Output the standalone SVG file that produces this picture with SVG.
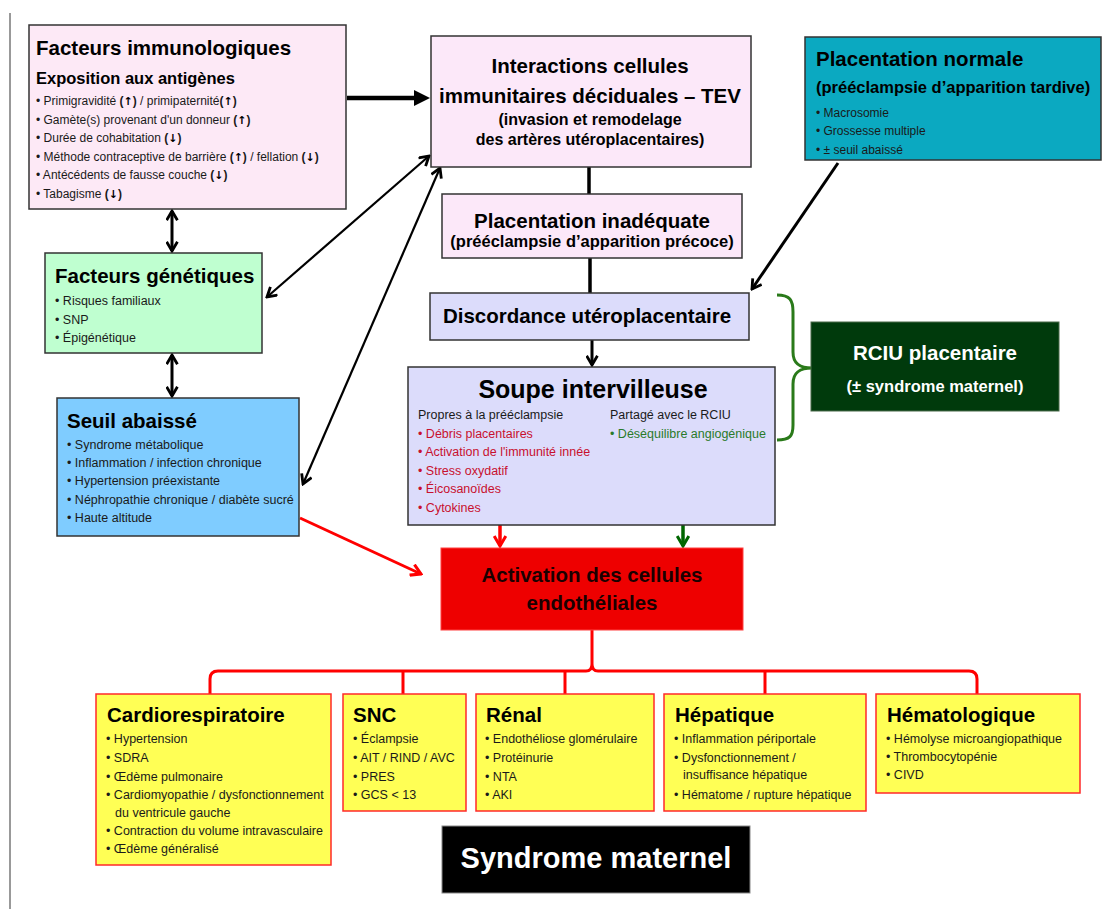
<svg xmlns="http://www.w3.org/2000/svg" width="1108" height="909" viewBox="0 0 1108 909">
<style>
text{font-family:"Liberation Sans",Arial,"DejaVu Sans",sans-serif}
.h{font-weight:bold;font-size:20.5px;fill:#000}
.hc{font-weight:bold;font-size:20.5px;fill:#000;text-anchor:middle}
.s{font-weight:bold;font-size:16.5px;fill:#000}
.sc{font-weight:bold;font-size:16px;fill:#000;text-anchor:middle}
.b{font-size:12.5px;fill:#1a1a1a}
.b1{font-size:12px;fill:#1a1a1a}
.ar{font-family:"DejaVu Sans",sans-serif;font-weight:bold;font-size:11px;fill:#000}
.r{font-size:12.5px;fill:#c8102e}
.g{font-size:12.5px;fill:#2a7a2a}
.bx{stroke:#333;stroke-width:1.5}
.yb{fill:#ffff55;stroke:#ff2a2a;stroke-width:1.5}
.k{stroke:#000;fill:none}
.rd{stroke:#ff0000;fill:none}
</style>
<defs>
<marker id="vK" viewBox="0 0 12 12" refX="10.5" refY="6" markerWidth="13" markerHeight="13" markerUnits="userSpaceOnUse" orient="auto-start-reverse"><path d="M2,1 L10.5,6 L2,11" fill="none" stroke="#000" stroke-width="2.6"/></marker>
<marker id="vR" viewBox="0 0 12 12" refX="10.5" refY="6" markerWidth="14" markerHeight="14" markerUnits="userSpaceOnUse" orient="auto"><path d="M2,1 L10.5,6 L2,11" fill="none" stroke="#ff0000" stroke-width="2.6"/></marker>
<marker id="vG" viewBox="0 0 12 12" refX="10.5" refY="6" markerWidth="14" markerHeight="14" markerUnits="userSpaceOnUse" orient="auto"><path d="M2,1 L10.5,6 L2,11" fill="none" stroke="#006600" stroke-width="2.6"/></marker>
<marker id="tK" viewBox="0 0 10 10" refX="0" refY="5" markerWidth="16" markerHeight="16" markerUnits="userSpaceOnUse" orient="auto"><path d="M0,0 L10,5 L0,10 z" fill="#000"/></marker>
</defs>
<rect width="1108" height="909" fill="#fff"/>
<line x1="10" y1="13" x2="10" y2="909" stroke="#777" stroke-width="1.5"/>

<g id="connectors">
<line class="k" x1="347" y1="98" x2="414" y2="98" stroke-width="4.5" marker-end="url(#tK)"/>
<line class="k" x1="172" y1="211" x2="172" y2="251" stroke-width="3" marker-start="url(#vK)" marker-end="url(#vK)"/>
<line class="k" x1="172" y1="355" x2="172" y2="396" stroke-width="3" marker-start="url(#vK)" marker-end="url(#vK)"/>
<line class="k" x1="429" y1="156" x2="267" y2="297" stroke-width="2.2" marker-start="url(#vK)" marker-end="url(#vK)"/>
<line class="k" x1="440" y1="168" x2="303" y2="484" stroke-width="2.2" marker-start="url(#vK)" marker-end="url(#vK)"/>
<line class="k" x1="589" y1="167" x2="589" y2="195" stroke-width="3.5"/>
<line class="k" x1="590" y1="258" x2="590" y2="293" stroke-width="3.5"/>
<line class="k" x1="838" y1="163" x2="752" y2="289" stroke-width="3" marker-end="url(#vK)"/>
<line class="k" x1="592" y1="340" x2="592" y2="365" stroke-width="3" marker-end="url(#vK)"/>
<line class="rd" x1="300" y1="518" x2="421" y2="574" stroke-width="3" marker-end="url(#vR)"/>
<line class="rd" x1="500" y1="525" x2="500" y2="546" stroke-width="3.5" marker-end="url(#vR)"/>
<line x1="683" y1="525" x2="683" y2="546" stroke="#006600" stroke-width="3.5" marker-end="url(#vG)"/>
<path d="M777,295 C790,295 793,300 793,312 L793,352 C793,364 800,368 812,368 C800,368 793,372 793,384 L793,425 C793,436 790,440 777,440" fill="none" stroke="#2a7a1a" stroke-width="3"/>
<path class="rd" stroke-width="3" d="M210,695 L210,679 Q210,671 218,671 L586,671 Q592,671 592,664 L592,630 M592,664 Q592,671 598,671 L969,671 Q977,671 977,679 L977,695 M403,671 L403,695 M565,671 L565,695 M765,671 L765,695"/>
</g>

<g id="facteurs-immunologiques">
<rect class="bx" x="29" y="25" width="317" height="184" fill="#fde9f6"/>
<text class="h" x="36" y="55">Facteurs immunologiques</text>
<text class="s" x="36" y="84">Exposition aux antigènes</text>
<text class="b1" x="36" y="105">• Primigravidité <tspan font-weight="bold">(</tspan><tspan class="ar">↑</tspan><tspan font-weight="bold">)</tspan> / primipaternité<tspan font-weight="bold">(</tspan><tspan class="ar">↑</tspan><tspan font-weight="bold">)</tspan></text>
<text class="b1" x="36" y="124">• Gamète(s) provenant d'un donneur <tspan font-weight="bold">(</tspan><tspan class="ar">↑</tspan><tspan font-weight="bold">)</tspan></text>
<text class="b1" x="36" y="142">• Durée de cohabitation <tspan font-weight="bold">(</tspan><tspan class="ar">↓</tspan><tspan font-weight="bold">)</tspan></text>
<text class="b1" x="36" y="161">• Méthode contraceptive de barrière <tspan font-weight="bold">(</tspan><tspan class="ar">↑</tspan><tspan font-weight="bold">)</tspan>  / fellation <tspan font-weight="bold">(</tspan><tspan class="ar">↓</tspan><tspan font-weight="bold">)</tspan></text>
<text class="b1" x="36" y="179">• Antécédents de fausse couche <tspan font-weight="bold">(</tspan><tspan class="ar">↓</tspan><tspan font-weight="bold">)</tspan></text>
<text class="b1" x="36" y="198">• Tabagisme <tspan font-weight="bold">(</tspan><tspan class="ar">↓</tspan><tspan font-weight="bold">)</tspan></text>
</g>

<g id="interactions">
<rect class="bx" x="431" y="36" width="320" height="131" fill="#fce8f9"/>
<text class="hc" x="590" y="73">Interactions cellules</text>
<text class="hc" x="590" y="103">immunitaires déciduales – TEV</text>
<text class="sc" x="590" y="125">(invasion et remodelage</text>
<text class="sc" x="590" y="145">des artères utéroplacentaires)</text>
</g>

<g id="placentation-inadequate">
<rect class="bx" x="442" y="194" width="300" height="64" fill="#fce8f9"/>
<text class="hc" x="592" y="228">Placentation inadéquate</text>
<text class="sc" x="592" y="247" style="font-size:16.5px">(prééclampsie d’apparition précoce)</text>
</g>

<g id="placentation-normale">
<rect class="bx" x="805" y="37" width="296" height="123" fill="#0ba9c1"/>
<text class="h" x="816" y="66">Placentation normale</text>
<text class="s" x="816" y="93">(prééclampsie d’apparition tardive)</text>
<text class="b1" x="816" y="117">• Macrosomie</text>
<text class="b1" x="816" y="135">• Grossesse multiple</text>
<text class="b1" x="816" y="154">• ± seuil abaissé</text>
</g>

<g id="facteurs-genetiques">
<rect class="bx" x="45" y="253" width="217" height="100" fill="#bfffd0"/>
<text class="h" x="55" y="283">Facteurs génétiques</text>
<text class="b" x="55" y="305">• Risques familiaux</text>
<text class="b" x="55" y="324">• SNP</text>
<text class="b" x="55" y="342">• Épigénétique</text>
</g>

<g id="seuil-abaisse">
<rect class="bx" x="57" y="398" width="242" height="138" fill="#7fccff"/>
<text class="h" x="67" y="428">Seuil abaissé</text>
<text class="b" x="67" y="449">• Syndrome métabolique</text>
<text class="b" x="67" y="467">• Inflammation / infection chronique</text>
<text class="b" x="67" y="485">• Hypertension préexistante</text>
<text class="b" x="67" y="504">• Néphropathie chronique / diabète sucré</text>
<text class="b" x="67" y="522">• Haute altitude</text>
</g>

<g id="discordance">
<rect class="bx" x="430" y="293" width="319" height="47" fill="#dcdcfb"/>
<text class="hc" x="587" y="323">Discordance utéroplacentaire</text>
</g>

<g id="soupe">
<rect class="bx" x="408" y="367" width="367" height="158" fill="#dcdcfb"/>
<text class="hc" x="593" y="398" style="font-size:25px">Soupe intervilleuse</text>
<text class="b" x="418" y="419">Propres à la prééclampsie</text>
<text class="b" x="610" y="419">Partagé avec le RCIU</text>
<text class="r" x="418" y="438">• Débris placentaires</text>
<text class="r" x="418" y="456">• Activation de l'immunité innée</text>
<text class="r" x="418" y="475">• Stress oxydatif</text>
<text class="r" x="418" y="493">• Éicosanoïdes</text>
<text class="r" x="418" y="512">• Cytokines</text>
<text class="g" x="610" y="438">• Déséquilibre angiogénique</text>
</g>

<g id="rciu">
<rect x="811" y="322" width="248" height="89" fill="#003a0c" stroke="#4a6a4a" stroke-width="1"/>
<text class="hc" x="935" y="360" style="fill:#fff">RCIU placentaire</text>
<text class="sc" x="935" y="392" style="fill:#fff;font-size:16.5px">(± syndrome maternel)</text>
</g>

<g id="activation">
<rect x="441" y="548" width="302" height="82" fill="#ee0000" stroke="#ff4040" stroke-width="1"/>
<text class="hc" x="592" y="582" style="fill:#1a0000">Activation des cellules</text>
<text class="hc" x="592" y="610" style="fill:#1a0000">endothéliales</text>
</g>

<g id="cardiorespiratoire">
<rect class="yb" x="96" y="694" width="235" height="171"/>
<text class="h" x="107" y="722">Cardiorespiratoire</text>
<text class="b" x="106" y="743">• Hypertension</text>
<text class="b" x="106" y="762">• SDRA</text>
<text class="b" x="106" y="781">• Œdème pulmonaire</text>
<text class="b" x="106" y="799">• Cardiomyopathie / dysfonctionnement</text>
<text class="b" x="115" y="817">du ventricule gauche</text>
<text class="b" x="106" y="835">• Contraction du volume intravasculaire</text>
<text class="b" x="106" y="853">• Œdème généralisé</text>
</g>

<g id="snc">
<rect class="yb" x="343" y="694" width="123" height="117"/>
<text class="h" x="353" y="722">SNC</text>
<text class="b" x="353" y="743">• Éclampsie</text>
<text class="b" x="353" y="762">• AIT / RIND / AVC</text>
<text class="b" x="353" y="781">• PRES</text>
<text class="b" x="353" y="799">• GCS &lt; 13</text>
</g>

<g id="renal">
<rect class="yb" x="476" y="694" width="178" height="117"/>
<text class="h" x="486" y="722">Rénal</text>
<text class="b" x="485" y="743">• Endothéliose glomérulaire</text>
<text class="b" x="485" y="762">• Protéinurie</text>
<text class="b" x="485" y="781">• NTA</text>
<text class="b" x="485" y="799">• AKI</text>
</g>

<g id="hepatique">
<rect class="yb" x="664" y="694" width="202" height="117"/>
<text class="h" x="675" y="722">Hépatique</text>
<text class="b" x="674" y="743">• Inflammation périportale</text>
<text class="b" x="674" y="762">• Dysfonctionnement /</text>
<text class="b" x="683" y="779">insuffisance hépatique</text>
<text class="b" x="674" y="799">• Hématome / rupture hépatique</text>
</g>

<g id="hematologique">
<rect class="yb" x="876" y="694" width="204" height="99"/>
<text class="h" x="887" y="722">Hématologique</text>
<text class="b" x="886" y="743">• Hémolyse microangiopathique</text>
<text class="b" x="886" y="761">• Thrombocytopénie</text>
<text class="b" x="886" y="779">• CIVD</text>
</g>

<g id="syndrome-maternel">
<rect x="442" y="826" width="308" height="67" fill="#000" stroke="#888" stroke-width="1"/>
<text x="596" y="868" text-anchor="middle" style="font-weight:bold;font-size:29px;fill:#fff">Syndrome maternel</text>
</g>
</svg>
